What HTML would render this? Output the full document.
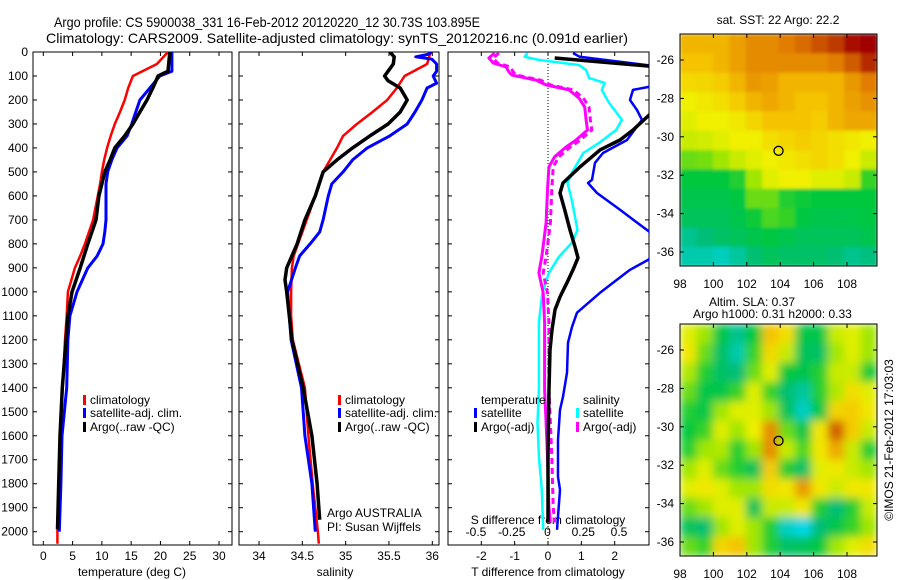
<!DOCTYPE html>
<html><head><meta charset="utf-8">
<style>
html,body{margin:0;padding:0;background:#fff;}
svg{display:block;font-family:"Liberation Sans",sans-serif;}
</style></head>
<body>
<svg id="fig" width="900" height="580" viewBox="0 0 900 580" xmlns="http://www.w3.org/2000/svg">
<defs>
<clipPath id="c1"><rect x="33" y="52" width="199" height="493"/></clipPath>
<clipPath id="c2"><rect x="239" y="52" width="200" height="493"/></clipPath>
<clipPath id="c3"><rect x="448" y="52" width="201" height="493"/></clipPath>
<clipPath id="cm1"><rect x="680" y="34" width="197" height="232"/></clipPath>
<clipPath id="cm2"><rect x="680" y="324" width="197" height="232"/></clipPath>
<filter id="bl1" x="0" y="0" width="1" height="1"><feGaussianBlur stdDeviation="1.5" edgeMode="duplicate"/></filter>
<filter id="bl2" x="0" y="0" width="1" height="1"><feGaussianBlur stdDeviation="4.5" edgeMode="duplicate"/></filter>
</defs>
<text x="54" y="27" font-size="14" textLength="426" lengthAdjust="spacingAndGlyphs">Argo profile: CS 5900038_331 16-Feb-2012 20120220_12 30.73S 103.895E</text>
<text x="46" y="43" font-size="14" textLength="582" lengthAdjust="spacingAndGlyphs">Climatology: CARS2009. Satellite-adjusted climatology: synTS_20120216.nc (0.091d earlier)</text>
<g id="g1"></g>
<g id="g2"></g>
<g id="g3"></g>
<g id="m1"></g>
<g id="m2"></g>
<text x="778" y="24" font-size="12" text-anchor="middle">sat. SST: 22 Argo: 22.2</text>
<text x="709" y="306" font-size="12">Altim. SLA: 0.37</text>
<text x="693" y="318" font-size="12">Argo h1000: 0.31 h2000: 0.33</text>
<text x="0" y="0" font-size="12" text-anchor="middle" transform="translate(893,440) rotate(-90)">©IMOS 21-Feb-2012 17:03:03</text>
<text x="327" y="517" font-size="12">Argo AUSTRALIA</text>
<text x="327" y="531" font-size="12">PI: Susan Wijffels</text>
</svg>
<script>
// ---------- data ----------
const depthTicks=[0,100,200,300,400,500,600,700,800,900,1000,1100,1200,1300,1400,1500,1600,1700,1800,1900,2000];
const tempTicks=[0,5,10,15,20,25,30];
const salTicks=[34,34.5,35,35.5,36];
const tdiffTicks=[-2,-1,0,1,2];
const sdiffTicks=[-0.5,-0.25,0,0.25,0.5];
const sdiffTickLabels=["-0.5","-0.25","0","0.25","0.5"];
const climTDepth=[0,50,100,150,200,250,300,350,400,450,500,550,600,700,800,850,900,1000,1100,1200,1400,1600,1800,2000,2050];
const climT=[21.3,19.4,15.3,14.5,13.9,13.1,12.2,11.5,10.9,10.4,10.0,9.7,9.3,8.5,7.1,6.3,5.4,4.2,4.0,3.7,3.3,2.9,2.6,2.4,2.4];
const satTDepth=[0,50,80,100,150,200,250,300,350,400,450,500,550,600,700,750,800,850,900,1000,1100,1200,1400,1600,1800,2000];
const satT=[21.96,21.96,21.96,19.9,18.2,16.5,15.8,15.1,14.3,12.6,11.7,11.0,10.7,10.7,10.7,10.5,10.2,9.2,7.6,5.75,4.55,4.2,4.0,3.2,3.0,2.73];
const argoTDepth=[0,80,100,150,200,250,300,350,400,450,500,600,700,800,900,1000,1100,1200,1400,1600,1800,1990];
const argoT=[21.6,21.3,19.6,18.7,17.7,16.5,15.3,13.9,12.2,11.4,10.5,9.5,9.0,7.6,6.3,4.9,4.2,3.9,3.24,2.85,2.63,2.42];
const climS=[35.98,35.94,35.68,35.59,35.48,35.31,35.13,34.97,34.90,34.82,34.74,34.69,34.65,34.55,34.45,34.40,34.38,34.37,34.37,34.39,34.53,34.57,34.62,34.68,34.69];
const satSDepth=[0,10,20,30,50,80,100,130,150,200,250,300,350,400,450,500,550,600,700,750,800,850,900,1000,1100,1200,1400,1600,1800,2000];
const satS=[35.995,35.95,35.81,35.995,36.05,36.05,36.01,36.05,35.94,35.88,35.80,35.71,35.51,35.25,35.08,34.97,34.84,34.80,34.74,34.70,34.59,34.47,34.42,34.33,34.35,34.37,34.49,34.53,34.61,34.65];
const argoSDepth=[0,20,50,80,100,120,150,200,250,300,350,400,450,500,600,700,800,900,950,1000,1100,1200,1400,1600,1800,1950];
const argoS=[35.51,35.56,35.55,35.49,35.45,35.49,35.63,35.71,35.63,35.49,35.28,35.08,34.90,34.74,34.65,34.53,34.44,34.32,34.30,34.32,34.35,34.38,34.51,34.61,34.67,34.70];
const argoTdiffDepth=[25,62,100,200,267,325,367,408,479,546,588,658,742,812,858,908,962,1021,1075,1158,1242,1408,1687,1962];
const argoTdiff=[0.2,3.3,4.0,3.5,3.0,2.55,2.16,1.56,0.96,0.45,0.36,0.5,0.66,0.81,0.9,0.75,0.57,0.36,0.21,0.12,0.06,0.03,0.0,0.0];
const satTdiffDepth=[4,20,55,80,120,146,158,200,242,283,367,421,462,533,546,588,658,742,800,867,908,1004,1087,1146,1212,1337,1437,1492,1617,1771,1825,1937,1992];
const satTdiff=[0.75,0.95,3.0,4.0,3.5,3.0,2.55,2.46,2.67,2.82,2.37,1.65,1.41,1.32,1.2,1.47,2.16,2.97,3.5,3.0,2.46,1.56,0.87,0.72,0.6,0.57,0.45,0.36,0.3,0.3,0.36,0.3,0.27];
const satSdiffDepth=[4,20,33,41,54,75,108,129,158,212,283,325,379,421,504,546,617,742,796,854,921,992,1021,1129,1408,1546,1687,1825,1992];
const satSdiff=[-0.14,-0.16,-0.06,0.04,0.22,0.27,0.29,0.4,0.38,0.43,0.52,0.48,0.36,0.25,0.17,0.14,0.17,0.21,0.17,0.08,0.01,-0.03,-0.04,-0.06,-0.06,-0.07,-0.06,-0.04,-0.03];
const argoSdiffDepth=[4,25,46,62,83,96,117,137,158,192,229,283,325,367,396,437,479,575,712,854,921,1004,1129,1408,1546,1687,1896,1962];
const argoSdiff=[-0.37,-0.41,-0.38,-0.29,-0.27,-0.25,-0.08,-0.01,0.15,0.22,0.26,0.27,0.28,0.2,0.13,0.05,0.01,0.0,-0.01,-0.04,-0.06,-0.03,-0.02,-0.02,-0.01,0.0,0.01,0.02];
const rawSdiff=[-0.34,-0.38,-0.35,-0.26,-0.24,-0.22,-0.05,0.02,0.18,0.25,0.29,0.30,0.31,0.23,0.16,0.08,0.04,0.03,0.02,-0.01,-0.03,0.0,0.01,0.01,0.02,0.03,0.04,0.05];
const lonTicks=[98,100,102,104,106,108];
const latTicks=[-26,-28,-30,-32,-34,-36];
const argoLon=[103.9];
const argoLat=[-30.73];
const sstGrid=[
[0.72,0.72,0.72,0.75,0.78,0.78,0.8,0.82,0.85,0.88,0.93,0.96],
[0.7,0.7,0.72,0.75,0.78,0.78,0.78,0.78,0.78,0.8,0.84,0.9],
[0.65,0.66,0.68,0.72,0.76,0.75,0.72,0.72,0.72,0.72,0.76,0.8],
[0.6,0.62,0.64,0.68,0.72,0.74,0.72,0.7,0.7,0.72,0.75,0.77],
[0.58,0.6,0.6,0.62,0.66,0.7,0.7,0.7,0.68,0.72,0.74,0.74],
[0.55,0.56,0.58,0.6,0.6,0.64,0.66,0.68,0.66,0.64,0.62,0.6],
[0.45,0.46,0.5,0.55,0.58,0.6,0.62,0.64,0.66,0.64,0.6,0.55],
[0.35,0.35,0.35,0.38,0.5,0.58,0.6,0.6,0.58,0.58,0.55,0.4],
[0.32,0.32,0.32,0.34,0.45,0.45,0.38,0.36,0.35,0.35,0.35,0.35],
[0.3,0.3,0.3,0.32,0.36,0.42,0.4,0.34,0.32,0.32,0.33,0.34],
[0.22,0.25,0.28,0.3,0.32,0.34,0.32,0.3,0.3,0.3,0.3,0.32],
[0.18,0.18,0.16,0.2,0.26,0.3,0.28,0.28,0.28,0.26,0.22,0.24]];
const slaGrid=[
[0.58,0.5,0.33,0.22,0.35,0.7,0.64,0.33,0.33,0.55,0.58,0.5],
[0.62,0.45,0.28,0.18,0.4,0.65,0.55,0.3,0.28,0.5,0.58,0.5],
[0.52,0.38,0.28,0.25,0.45,0.58,0.35,0.32,0.38,0.55,0.55,0.36],
[0.45,0.33,0.33,0.4,0.58,0.4,0.26,0.2,0.38,0.52,0.64,0.58],
[0.38,0.33,0.5,0.58,0.58,0.5,0.3,0.15,0.33,0.66,0.68,0.62],
[0.35,0.4,0.58,0.5,0.6,0.78,0.45,0.33,0.62,0.84,0.68,0.55],
[0.38,0.5,0.52,0.38,0.5,0.78,0.55,0.42,0.62,0.74,0.55,0.38],
[0.5,0.58,0.45,0.38,0.3,0.68,0.38,0.28,0.58,0.62,0.55,0.5],
[0.58,0.62,0.58,0.5,0.5,0.64,0.62,0.76,0.62,0.55,0.62,0.62],
[0.45,0.5,0.58,0.58,0.3,0.55,0.55,0.62,0.38,0.25,0.38,0.55],
[0.3,0.26,0.5,0.58,0.5,0.38,0.15,0.08,0.25,0.33,0.4,0.5],
[0.45,0.4,0.66,0.7,0.5,0.38,0.28,0.3,0.35,0.5,0.58,0.64]];

// ---------- helpers ----------
const NS="http://www.w3.org/2000/svg";
function mk(tag,attrs,parent,txt){const e=document.createElementNS(NS,tag);for(const k in attrs)e.setAttribute(k,attrs[k]);if(txt!==undefined)e.textContent=txt;parent.appendChild(e);return e;}
const Y0=52,YB=545,PXM=(531.7-52)/2000;
function yD(d){return Y0+d*PXM;}
function lin(d0,d1,p0,p1){return v=>p0+(v-d0)*(p1-p0)/(d1-d0);}
const xT=lin(0,30,43.3,219);
const xS=lin(34,36,259,432.3);
const xTd=lin(-2,2,481.3,614.7);
const xSd=lin(-0.5,0.5,476,619);
function pathD(xs,ds,fx){return xs.map((v,i)=>(i?"L":"M")+fx(v).toFixed(1)+","+yD(ds[i]).toFixed(1)).join("");}

function frame(g,x0,x1,name){
  mk("rect",{x:x0,y:Y0,width:x1-x0,height:YB-Y0,fill:"none",stroke:"#000","stroke-width":1},g);
  depthTicks.forEach(d=>{const y=yD(d);
    mk("line",{x1:x0,x2:x0+4,y1:y,y2:y,stroke:"#000"},g);
    mk("line",{x1:x1,x2:x1-4,y1:y,y2:y,stroke:"#000"},g);});
}
function xticks(g,vals,fx,labels,ly){
  vals.forEach((v,i)=>{const x=fx(v);
    mk("line",{x1:x,x2:x,y1:YB,y2:YB-4,stroke:"#000"},g);
    mk("line",{x1:x,x2:x,y1:Y0,y2:Y0+4,stroke:"#000"},g);
    const t=mk("text",{x:x,y:ly,"font-size":12,"text-anchor":"middle"},g,labels?labels[i]:String(v));
    
    });
}
function series(g,xs,ds,fx,col,w,name,clip,dash){
  const p=mk("path",{d:pathD(xs,ds,fx),fill:"none",stroke:col,"stroke-width":w,"stroke-linejoin":"round","clip-path":"url(#"+clip+")"},g);
  if(dash)p.setAttribute("stroke-dasharray",dash);
  
  
}
function legend(g,x,y,col,label){
  mk("rect",{x:x,y:y-5,width:3,height:10,fill:col},g);
  const t=mk("text",{x:x+7,y:y+4,"font-size":12},g,label);
  
  
}

// ---------- panel 1 ----------
const g1=document.getElementById("g1");
frame(g1,33,232,"temperature-panel");
depthTicks.forEach(d=>{const t=mk("text",{x:28,y:yD(d)+4,"font-size":12,"text-anchor":"end"},g1,String(d));
  
  });
xticks(g1,tempTicks,xT,null,560);
mk("text",{x:132,y:576,"font-size":12,"text-anchor":"middle",},g1,"temperature (deg C)");
series(g1,climT,climTDepth,xT,"#ff0000",2.5,"climatology-temperature-line","c1");
series(g1,satT,satTDepth,xT,"#0000ff",3,"satellite-temperature-line","c1");
series(g1,argoT,argoTDepth,xT,"#000000",3.5,"argo-temperature-line","c1");
legend(g1,83,400,"#ff0000","climatology");
legend(g1,83,413,"#0000ff","satellite-adj. clim.");
legend(g1,83,427,"#000000","Argo(..raw -QC)");

// ---------- panel 2 ----------
const g2=document.getElementById("g2");
frame(g2,239,439,"salinity-panel");
xticks(g2,salTicks,xS,null,560);
mk("text",{x:335,y:576,"font-size":12,"text-anchor":"middle",},g2,"salinity");
series(g2,climS,climTDepth,xS,"#ff0000",2.5,"climatology-salinity-line","c2");
series(g2,satS,satSDepth,xS,"#0000ff",3,"satellite-salinity-line","c2");
series(g2,argoS,argoSDepth,xS,"#000000",3.5,"argo-salinity-line","c2");
legend(g2,338,400,"#ff0000","climatology");
legend(g2,338,413,"#0000ff","satellite-adj. clim.");
legend(g2,338,427,"#000000","Argo(..raw -QC)");

// ---------- panel 3 ----------
const g3=document.getElementById("g3");
frame(g3,448,649,"difference-panel");
xticks(g3,tdiffTicks,xTd,null,560);
mk("text",{x:548,y:576,"font-size":12,"text-anchor":"middle",},g3,"T difference from climatology");
mk("line",{x1:xTd(0),x2:xTd(0),y1:Y0,y2:YB,stroke:"#000","stroke-width":1,"stroke-dasharray":"1,2",},g3);
sdiffTicks.forEach((v,i)=>{const t=mk("text",{x:xSd(v),y:536,"font-size":12,"text-anchor":"middle"},g3,sdiffTickLabels[i]);
  
  });
mk("text",{x:548,y:524,"font-size":12,"text-anchor":"middle",},g3,"S difference from climatology");
series(g3,satSdiff,satSdiffDepth,xSd,"#00ffff",2.5,"satellite-salinity-diff-line","c3");
series(g3,rawSdiff,argoSdiffDepth,xSd,"#ff00ff",3,"argo-raw-salinity-diff-line","c3","6,4");
series(g3,argoSdiff,argoSdiffDepth,xSd,"#ff00ff",3,"argo-salinity-diff-line","c3");
series(g3,satTdiff,satTdiffDepth,xTd,"#0000ff",2.5,"satellite-temperature-diff-line","c3");
series(g3,argoTdiff,argoTdiffDepth,xTd,"#000000",3.5,"argo-temperature-diff-line","c3");
mk("text",{x:481,y:404,"font-size":12,},g3,"temperature");
mk("text",{x:583,y:404,"font-size":12,},g3,"salinity");
legend(g3,474,413,"#0000ff","satellite");
legend(g3,474,427,"#000000","Argo(-adj)");
legend(g3,576,413,"#00ffff","satellite");
legend(g3,576,427,"#ff00ff","Argo(-adj)");

// ---------- maps ----------
const stops=[[0.1,[0,216,232]],[0.25,[0,190,120]],[0.35,[0,200,60]],[0.5,[160,230,0]],[0.6,[240,240,0]],[0.7,[245,195,0]],[0.8,[225,125,0]],[0.95,[160,0,0]]];
function cmap(v){if(v<=stops[0][0])return stops[0][1];
  for(let i=1;i<stops.length;i++){if(v<=stops[i][0]){const a=stops[i-1],b=stops[i],t=(v-a[0])/(b[0]-a[0]);
    const c=a[1].map((q,k)=>Math.round(q+(b[1][k]-q)*t));return c;}}
  return stops[stops.length-1][1];}
function drawMap(id,grid,top,clip,filt,name){
  const g=document.getElementById(id);
  const xL=lin(98,108,680,847), yL=lin(-26,-36,top+26,top+218);
  const gi=mk("g",{"clip-path":"url(#"+clip+")"},g);
  const gf=mk("g",{filter:"url(#"+filt+")"},gi);
  const rows=grid.length, cols=grid[0].length, cw=197/cols, ch=232/rows;
  grid.forEach((row,r)=>row.forEach((v,c)=>{const col=cmap(v);
    const e=mk("rect",{x:680+c*cw,y:top+r*ch,width:cw+0.6,height:ch+0.6,fill:"rgb("+col.join(",")+")"},gf);
    
    }));
  mk("rect",{x:680,y:top,width:197,height:232,fill:"none",stroke:"#000"},g);
  lonTicks.forEach(v=>{const x=xL(v);
    mk("line",{x1:x,x2:x,y1:top,y2:top+4,stroke:"#000"},g);
    mk("line",{x1:x,x2:x,y1:top+232,y2:top+228,stroke:"#000"},g);
    const t=mk("text",{x:x,y:top+254,"font-size":12,"text-anchor":"middle"},g,String(v));
    
    });
  latTicks.forEach(v=>{const y=yL(v);
    mk("line",{x1:680,x2:684,y1:y,y2:y,stroke:"#000"},g);
    mk("line",{x1:877,x2:873,y1:y,y2:y,stroke:"#000"},g);
    const t=mk("text",{x:674,y:y+4,"font-size":12,"text-anchor":"end"},g,String(v));
    
    });
  argoLon.forEach((lo,i)=>{const m=mk("circle",{cx:xL(lo),cy:yL(argoLat[i]),r:4.5,fill:"none",stroke:"#000","stroke-width":1.3},g);
    
    });
}
drawMap("m1",sstGrid,34,"cm1","bl1","sst-map");
drawMap("m2",slaGrid,324,"cm2","bl2","sla-map");
</script>
</body></html>
